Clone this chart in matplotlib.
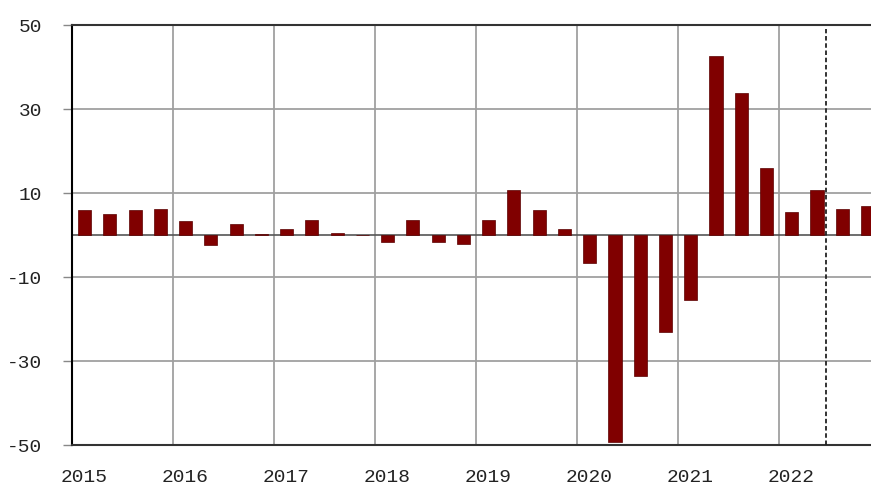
import numpy as np
import matplotlib
matplotlib.use("Agg")
import matplotlib.pyplot as plt

# quarterly % change, 2015 Q1 .. 2022 Q4
years = [2015, 2016, 2017, 2018, 2019, 2020, 2021, 2022]
values = [
    6.0, 5.0, 6.0, 6.3,        # 2015
    3.3, -2.3, 2.6, 0.3,       # 2016
    1.4, 3.5, 0.4, 0.0,        # 2017
    -1.6, 3.5, -1.6, -2.2,     # 2018
    3.5, 10.6, 5.9, 1.4,       # 2019
    -6.7, -49.2, -33.5, -23.0, # 2020
    -15.5, 42.6, 33.7, 16.0,   # 2021
    5.5, 10.6, 6.2, 6.8,       # 2022
]
yticks = [-50, -30, -10, 10, 30, 50]
forecast_start = 2022.46

bar_x = years[0] + 0.125 + 0.25 * np.arange(len(values))

plt.rcParams["font.family"] = ["Liberation Mono", "DejaVu Sans"]

fig = plt.figure(figsize=(8.71, 4.87), dpi=100)
ax = fig.add_axes([72 / 871, 1 - 445 / 487, 1 - 72 / 871, (445 - 25) / 487])

# grid
for y in yticks[1:-1]:
    ax.axhline(y, color="#a0a0a0", lw=1.3, zorder=0)
for yr in years[1:]:
    ax.axvline(yr, color="#a0a0a0", lw=1.3, zorder=0)
ax.axhline(0, color="#555555", lw=1.2, zorder=1)

ax.bar(bar_x, values, width=0.13, color="#800000", edgecolor="#5a0000",
       lw=0.5, zorder=2)

ax.axvline(forecast_start, ymin=0.0, ymax=0.99, color="#222222", lw=1.3,
           linestyle=(0, (2.5, 1.5)), zorder=3)

ax.set_xlim(2015, 2022.91)
ax.set_ylim(-50, 50)

ax.set_yticks(yticks)
ax.set_yticklabels([str(v) for v in yticks], fontsize=14, color="#222222")
ax.tick_params(axis="y", length=6.5, width=1, color="#888888", pad=15)

ax.set_xticks([yr + 0.12 for yr in years])
ax.set_xticklabels([str(yr) for yr in years], fontsize=14, color="#222222")
ax.tick_params(axis="x", length=0, pad=17)

ax.spines["right"].set_visible(False)
ax.spines["top"].set_color("#333333")
ax.spines["top"].set_linewidth(1.5)
ax.spines["bottom"].set_color("#333333")
ax.spines["bottom"].set_linewidth(1.5)
ax.spines["left"].set_color("black")
ax.spines["left"].set_linewidth(1.5)

fig.savefig("out.png", dpi=100)
